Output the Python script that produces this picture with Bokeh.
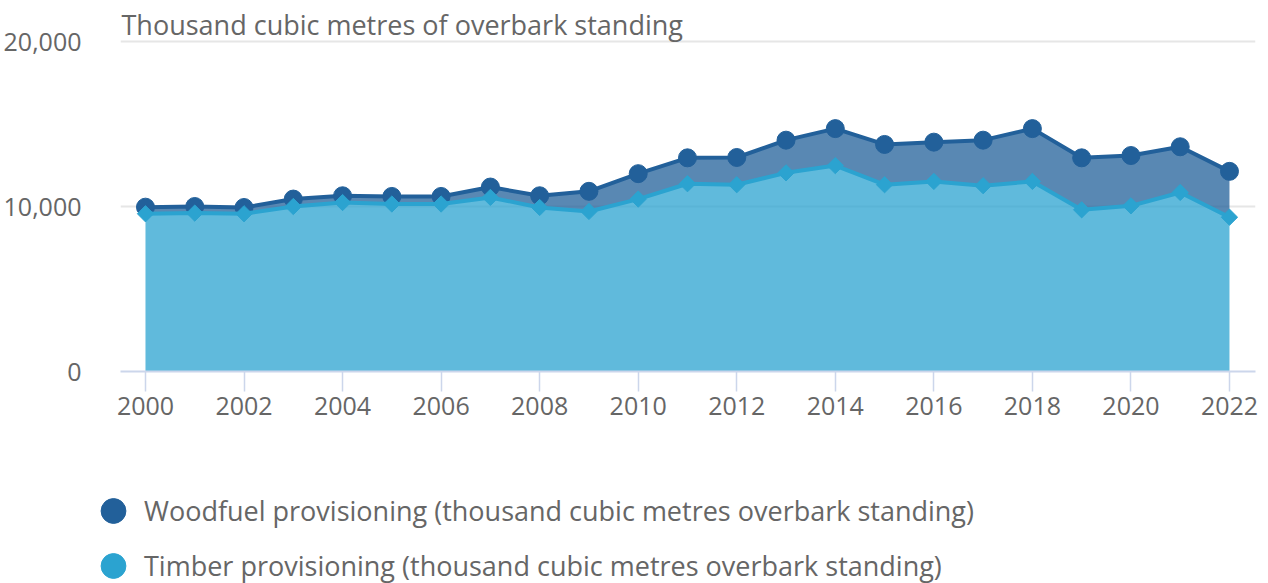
import numpy as np
from bokeh.plotting import figure
from bokeh.models import (Range1d, FixedTicker, NumeralTickFormatter, Label,
                          Legend, LegendItem, ColumnDataSource)
from bokeh.layouts import column
from bokeh.embed import file_html
from bokeh.resources import INLINE

# ---- data ----
years = list(range(2000, 2023))
timber = [9560, 9600, 9560, 10000, 10240, 10150, 10150, 10550, 9940, 9700,
          10450, 11380, 11320, 12040, 12480, 11320, 11520, 11260, 11520,
          9800, 10040, 10850, 9350]
woodfuel = [400, 400, 380, 450, 410, 460, 460, 630, 710, 1220,
            1540, 1570, 1650, 1980, 2240, 2440, 2380, 2760, 3200,
            3150, 3050, 2770, 2780]
y_ticks = [0, 10000, 20000]
x_ticks = list(range(2000, 2023, 2))
title_text = "Thousand cubic metres of overbark standing"
series_names = ["Woodfuel provisioning (thousand cubic metres overbark standing)",
                "Timber provisioning (thousand cubic metres overbark standing)"]

WOOD = "#22609a"
TIMB = "#2ba3d0"
TXT = "#666666"
FONT = "Open Sans"

total = [t + w for t, w in zip(timber, woodfuel)]
src = ColumnDataSource(dict(year=years, timber=timber, woodfuel=woodfuel, total=total))

x_start, x_end = 1999.493, 2022.528
p = figure(width=1268, height=428, output_backend="svg", toolbar_location=None,
           x_range=Range1d(x_start, x_end), y_range=Range1d(0, 22485),
           min_border_left=120, min_border_right=13, min_border_top=0,
           min_border_bottom=57)
p.outline_line_color = None
p.background_fill_color = "white"
p.border_fill_color = "white"
p.frame_align = False

# areas (stacked)
p.varea(x="year", y1="timber", y2="total", source=src, fill_color=WOOD, fill_alpha=0.75)
p.varea(x="year", y1=0, y2="timber", source=src, fill_color=TIMB, fill_alpha=0.75)

# woodfuel line + markers
p.line(x="year", y="total", source=src, line_color=WOOD, line_width=4, line_join="round")
p.scatter(x="year", y="total", source=src, marker="circle", size=18,
          fill_color=WOOD, line_color=WOOD)
# timber line + markers
p.line(x="year", y="timber", source=src, line_color=TIMB, line_width=4, line_join="round")
p.scatter(x="year", y="timber", source=src, marker="square", angle=np.pi / 4, size=11.5,
          fill_color=TIMB, line_color=TIMB)

# axes
p.xgrid.visible = False
p.ygrid.ticker = FixedTicker(ticks=y_ticks)
p.ygrid.grid_line_color = "#e6e6e6"
p.ygrid.grid_line_width = 2
p.ygrid.level = "underlay"

p.yaxis.ticker = FixedTicker(ticks=y_ticks)
p.yaxis.formatter = NumeralTickFormatter(format="0,0")
p.yaxis.axis_line_color = None
p.yaxis.major_tick_line_color = None
p.yaxis.minor_tick_line_color = None
p.yaxis.major_label_standoff = 33

p.xaxis.ticker = FixedTicker(ticks=x_ticks)
p.xaxis.axis_line_color = "#ccd6eb"
p.xaxis.axis_line_width = 2
p.xaxis.major_tick_line_color = "#ccd6eb"
p.xaxis.major_tick_line_width = 1.5
p.xaxis.major_tick_out = 20
p.xaxis.major_tick_in = 0
p.xaxis.minor_tick_line_color = None
p.xaxis.major_label_standoff = 5

for ax in (p.xaxis, p.yaxis):
    ax.major_label_text_font = FONT
    ax.major_label_text_font_size = "25px"
    ax.major_label_text_color = TXT

p.add_layout(Label(x=x_start, y=20000, x_units="data", y_units="data", text=title_text,
                   text_font=FONT, text_font_size="27px", text_color=TXT,
                   text_baseline="alphabetic", x_offset=1, y_offset=17))

# ---- legend figure ----
p2 = figure(width=1268, height=155, output_backend="svg", toolbar_location=None,
            x_range=Range1d(0, 1), y_range=Range1d(0, 1), min_border=0,
            x_axis_location=None, y_axis_location=None)
p2.frame_align = False
p2.grid.visible = False
p2.outline_line_color = None
# legend-only renderers: their single point lies outside this figure's visible range
r1 = p2.scatter(x=[-5], y=[-5], marker="circle", size=26, fill_color=WOOD, line_color=WOOD)
r2 = p2.scatter(x=[-5], y=[-5], marker="circle", size=26, fill_color=TIMB, line_color=TIMB)

legend_style = dict(orientation="vertical", padding=0, margin=0, spacing=0,
                    glyph_width=62, glyph_height=65, label_height=24, label_standoff=0,
                    label_text_font=FONT, label_text_font_size="27px",
                    label_text_color=TXT, background_fill_alpha=0,
                    border_line_color=None)
leg1 = Legend(items=[LegendItem(label=series_names[0], renderers=[r1])],
              location=(82, 40), **legend_style)
leg2 = Legend(items=[LegendItem(label=series_names[1], renderers=[r2])],
              location=(82, -15), **legend_style)
p2.add_layout(leg1, "center")
p2.add_layout(leg2, "center")

layout = column(p, p2, spacing=0)
open("out.html", "w").write(file_html(layout, INLINE))
